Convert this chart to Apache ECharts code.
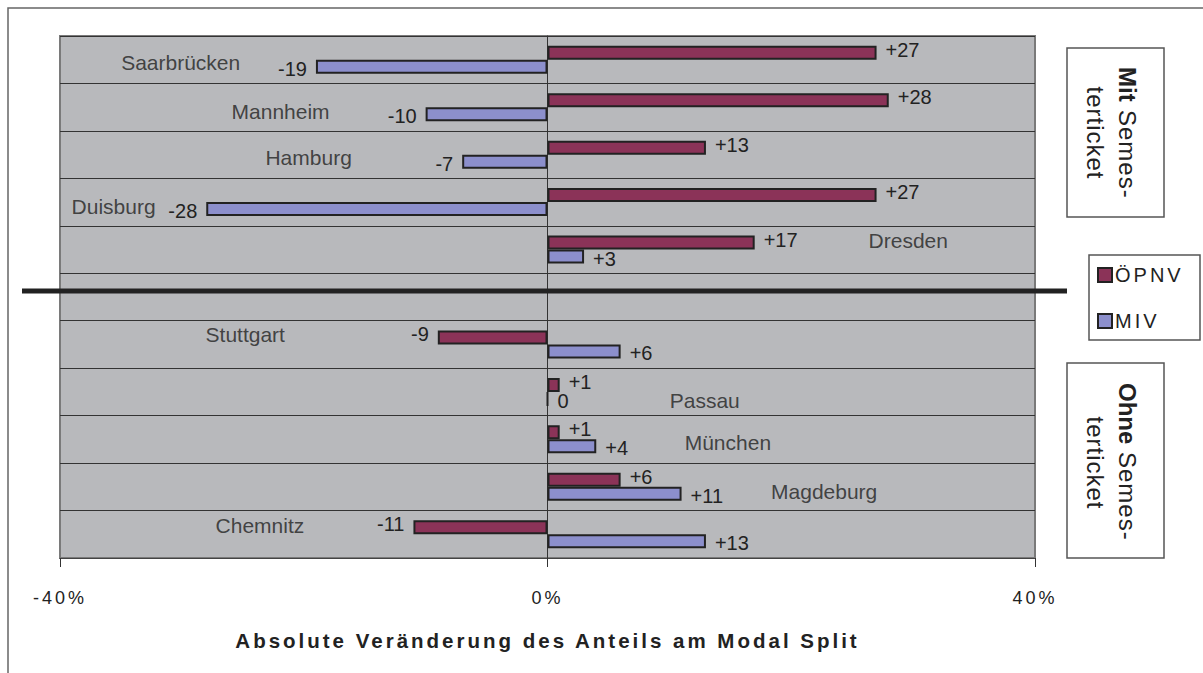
<!DOCTYPE html>
<html>
<head>
<meta charset="utf-8">
<script src="https://cdn.jsdelivr.net/npm/echarts@6/dist/echarts.min.js"></script>
<style>
  html, body { margin: 0; padding: 0; background: #fff; }
  #chart { width: 1203px; height: 673px; }
  /* Excel-artige Sperrung für Achse, Titel und Legende */
  #chart text[style*="ls-wide"], #chart text[font-family*="ls-wide"] { letter-spacing: 3px; }
  #chart text[style*="ls-mid"], #chart text[font-family*="ls-mid"] { letter-spacing: 1px; }
</style>
</head>
<body>
<div id="chart"></div>
<script>
// Städte (leere Zeile = Trenner zwischen mit/ohne Semesterticket)
const cities = ['Saarbrücken', 'Mannheim', 'Hamburg', 'Duisburg', 'Dresden', '',
  'Stuttgart', 'Passau', 'München', 'Magdeburg', 'Chemnitz']
const oepnv = [27, 28, 13, 27, 17, null, -9, 1, 1, 6, -11]
const miv = [-19, -10, -7, -28, 3, null, 6, 0, 4, 11, 13]
const xTicks = [-40, 0, 40]

// where the city name sits (x in %, vertical shift in px against row centre)
const nameX = [-30.1, -21.9, -19.6, -35.6, 29.6, null, -24.8, 12.9, 14.8, 22.7, -23.6]
const nameDy = [3, 4, 3, 4, -9, 0, -10, 9, 3, 5, -9]

const FONT = 'Liberation Sans, Arial, sans-serif'
const FONT_WIDE = 'Liberation Sans, ls-wide, sans-serif'
const FONT_MID = 'Liberation Sans, ls-mid, sans-serif'

const fmt = v => (v > 0 ? '+' + v : String(v))

function barData (vals, dy) {
  return vals.map(v => {
    if (v === null) return '-'
    return {
      value: v,
      label: { position: v < 0 ? 'left' : 'right', offset: [0, dy] }
    }
  })
}

// senkrechte Beschriftung (im Uhrzeigersinn gedreht)
function vText (text, x, y, bold, align) {
  return {
    type: 'text',
    x: x,
    y: y,
    rotation: -Math.PI / 2,
    style: {
      text: text,
      fontSize: 24,
      fontWeight: bold ? 'bold' : 'normal',
      fontFamily: bold ? FONT : FONT_MID,
      fill: '#222',
      align: align,
      verticalAlign: 'middle'
    }
  }
}

const chart = echarts.init(document.getElementById('chart'), null, { renderer: 'svg' })
chart.setOption({
  animation: false,
  textStyle: { fontFamily: FONT },
  grid: {
    left: 60,
    right: 168,
    top: 36,
    bottom: 115,
    show: true,
    backgroundColor: '#b8b9bc',
    borderColor: '#7a7a7a',
    borderWidth: 2
  },
  legend: {
    orient: 'vertical',
    left: 1097,
    top: 265,
    padding: 0,
    itemGap: 26,
    itemWidth: 14,
    itemHeight: 14,
    icon: 'rect',
    textStyle: { fontSize: 20, color: '#222', fontFamily: FONT_WIDE, padding: [0, 0, 0, -2] },
    data: ['ÖPNV', 'MIV']
  },
  xAxis: {
    type: 'value',
    min: xTicks[0],
    max: xTicks[xTicks.length - 1],
    interval: 40,
    axisLine: { show: true, lineStyle: { color: '#444', width: 1 } },
    axisTick: { show: true, length: 9, lineStyle: { color: '#333' } },
    axisLabel: { formatter: '{value}%', fontSize: 18, color: '#222', margin: 31, fontFamily: FONT_WIDE },
    splitLine: { show: false },
    name: 'Absolute Veränderung des Anteils am Modal Split',
    nameLocation: 'middle',
    nameGap: 72,
    nameTextStyle: { fontSize: 20.5, fontWeight: 'bold', color: '#222', fontFamily: FONT_WIDE }
  },
  yAxis: {
    type: 'category',
    inverse: true,
    data: cities,
    axisLine: { show: true, onZero: true, lineStyle: { color: '#333', width: 1 } },
    axisTick: { show: false },
    axisLabel: { show: false },
    splitLine: { show: true, lineStyle: { color: '#333', width: 1 } }
  },
  series: [
    {
      name: 'ÖPNV',
      type: 'bar',
      barWidth: 14,
      barGap: '0%',
      itemStyle: { color: '#8b3358', borderColor: '#222', borderWidth: 2 },
      label: { show: true, fontSize: 20, color: '#222', distance: 9, formatter: p => fmt(p.value) },
      data: barData(oepnv, -3)
    },
    {
      name: 'MIV',
      type: 'bar',
      barWidth: 14,
      barGap: '0%',
      itemStyle: { color: '#8c8fcc', borderColor: '#222', borderWidth: 2 },
      label: { show: true, fontSize: 20, color: '#222', distance: 9, formatter: p => fmt(p.value) },
      data: barData(miv, 2)
    },
    {
      // Städtenamen als Beschriftung im Plot
      type: 'scatter',
      symbolSize: 1,
      itemStyle: { color: 'transparent' },
      silent: true,
      label: {
        show: true,
        position: ['50%', '50%'],
        align: 'center',
        verticalAlign: 'middle',
        fontSize: 21,
        color: '#222',
        formatter: p => p.name
      },
      data: cities.map((c, i) => nameX[i] === null ? null : {
        name: c,
        value: [nameX[i], c],
        label: { offset: [0, nameDy[i]] }
      }).filter(d => d)
    }
  ],
  graphic: [
    {
      type: 'rect',
      shape: { x: 8, y: 8, width: 1400, height: 900 },
      style: { fill: 'none', stroke: '#666', lineWidth: 1.5 },
      z: -10
    },
    {
      type: 'line',
      shape: { x1: 22, y1: 291, x2: 1067, y2: 291 },
      style: { stroke: '#222', lineWidth: 5 },
      z: 100
    },
    {
      // Rahmen um die Legende
      type: 'rect',
      shape: { x: 1089, y: 255, width: 111, height: 85 },
      style: { fill: 'none', stroke: '#555', lineWidth: 1.5 }
    },
    {
      type: 'rect',
      shape: { x: 1067, y: 48, width: 97, height: 169 },
      style: { fill: '#fff', stroke: '#555', lineWidth: 1.5 }
    },
    vText('Mit', 1127, 67, true, 'left'),
    vText('Semes-', 1127, 110, false, 'left'),
    vText('terticket', 1095, 133, false, 'center'),
    {
      type: 'rect',
      shape: { x: 1067, y: 363, width: 97, height: 195 },
      style: { fill: '#fff', stroke: '#555', lineWidth: 1.5 }
    },
    vText('Ohne', 1127, 383, true, 'left'),
    vText('Semes-', 1127, 452, false, 'left'),
    vText('terticket', 1095, 463, false, 'center')
  ]
})
</script>
</body>
</html>
